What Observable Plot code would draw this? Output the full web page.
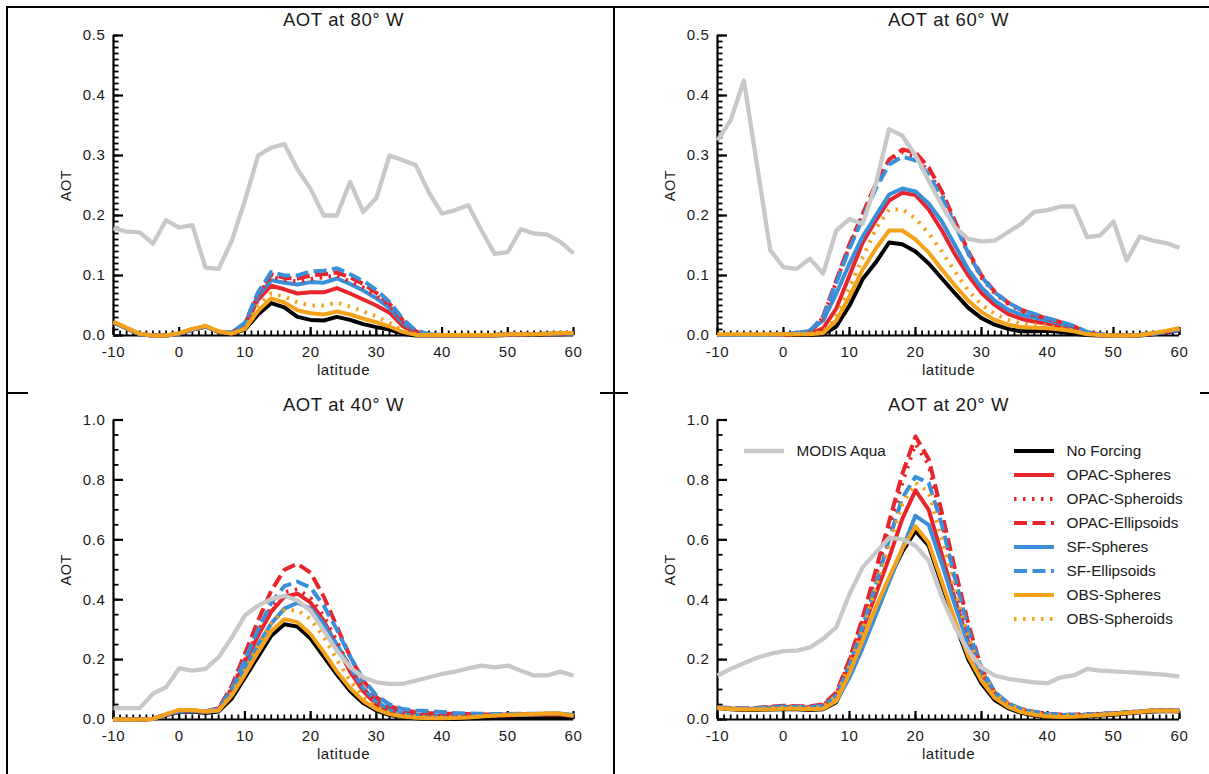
<!DOCTYPE html>
<html>
<head>
<meta charset="utf-8">
<script src="https://cdn.jsdelivr.net/npm/d3@7"></script>
<script src="https://cdn.jsdelivr.net/npm/@observablehq/plot@0.6"></script>
<style>
  body { margin: 0; background: #fff; }
  #root { position: relative; width: 1209px; height: 774px; overflow: hidden; background: #fff;
          font-family: "Liberation Sans", Arial, Helvetica, sans-serif; color: #1a1a1a; }
  .panel { position: absolute; }
  .bar { position: absolute; background: #000; }
  .legrow { position: absolute; height: 20px; display: flex; align-items: center; font-size: 15.3px; white-space: nowrap; }
  .legrow svg { display: block; flex: none; }
</style>
</head>
<body>
<div id="root"></div>
<script>
// ---------- categories ----------
const latitude = [-10,-8,-6,-4,-2,0,2,4,6,8,10,12,14,16,18,20,22,24,26,28,30,32,34,36,38,40,42,44,46,48,50,52,54,56,58,60];
const seriesNames = ["MODIS Aqua","No Forcing","OPAC-Spheres","OPAC-Spheroids","OPAC-Ellipsoids","SF-Spheres","SF-Ellipsoids","OBS-Spheres","OBS-Spheroids"];
const xMajorTicks = [-10,0,10,20,30,40,50,60];
const yMajorTop = [0,0.1,0.2,0.3,0.4,0.5];
const yMajorBottom = [0,0.2,0.4,0.6,0.8,1.0];
const titles = ["AOT at 80° W","AOT at 60° W","AOT at 40° W","AOT at 20° W"];

// ---------- 80° W ----------
const modis80 = [0.179,0.173,0.172,0.153,0.192,0.180,0.184,0.113,0.111,0.158,0.225,0.300,0.313,0.319,0.277,0.244,0.200,0.200,0.256,0.206,0.229,0.300,0.292,0.284,0.238,0.203,0.209,0.217,0.175,0.136,0.139,0.177,0.170,0.168,0.156,0.137];
const noForcing80 = [0.022,0.012,0.002,0.000,0.000,0.003,0.010,0.015,0.006,0.003,0.010,0.035,0.054,0.047,0.031,0.026,0.025,0.031,0.026,0.019,0.014,0.010,0.003,0.000,0.000,0.000,0.000,0.000,0.000,0.000,0.001,0.001,0.001,0.002,0.002,0.003];
const opacSpheres80 = [0.022,0.012,0.002,0.000,0.000,0.003,0.010,0.015,0.006,0.004,0.016,0.060,0.083,0.077,0.070,0.072,0.072,0.079,0.070,0.060,0.050,0.038,0.016,0.004,0.001,0.001,0.001,0.001,0.001,0.001,0.001,0.002,0.002,0.002,0.003,0.003];
const opacSpheroids80 = [0.022,0.012,0.002,0.000,0.000,0.003,0.010,0.015,0.006,0.004,0.018,0.068,0.098,0.093,0.090,0.094,0.097,0.100,0.090,0.080,0.066,0.050,0.023,0.006,0.001,0.001,0.001,0.001,0.001,0.001,0.002,0.002,0.002,0.003,0.003,0.004];
const opacEllipsoids80 = [0.022,0.012,0.002,0.000,0.000,0.003,0.010,0.015,0.006,0.004,0.019,0.070,0.102,0.096,0.095,0.100,0.102,0.105,0.097,0.086,0.071,0.053,0.026,0.007,0.001,0.001,0.001,0.001,0.001,0.001,0.002,0.002,0.002,0.003,0.003,0.004];
const sfSpheres80 = [0.022,0.012,0.002,0.000,0.000,0.003,0.010,0.015,0.006,0.005,0.020,0.066,0.092,0.088,0.085,0.089,0.088,0.095,0.086,0.075,0.062,0.046,0.021,0.006,0.002,0.001,0.001,0.001,0.001,0.001,0.002,0.002,0.002,0.003,0.003,0.003];
const sfEllipsoids80 = [0.022,0.012,0.002,0.000,0.000,0.003,0.010,0.015,0.006,0.005,0.021,0.072,0.106,0.100,0.100,0.107,0.108,0.112,0.102,0.091,0.076,0.056,0.028,0.008,0.002,0.001,0.001,0.001,0.001,0.001,0.002,0.002,0.002,0.003,0.003,0.004];
const obsSpheres80 = [0.023,0.013,0.003,0.000,0.000,0.004,0.011,0.016,0.007,0.003,0.011,0.041,0.062,0.055,0.042,0.037,0.035,0.040,0.035,0.028,0.022,0.015,0.006,0.001,0.001,0.001,0.001,0.001,0.001,0.001,0.002,0.002,0.002,0.003,0.004,0.004];
const obsSpheroids80 = [0.023,0.013,0.003,0.000,0.000,0.004,0.011,0.016,0.007,0.003,0.012,0.050,0.070,0.065,0.055,0.050,0.050,0.055,0.048,0.040,0.032,0.021,0.008,0.002,0.001,0.001,0.001,0.001,0.001,0.001,0.002,0.002,0.002,0.003,0.004,0.004];

// ---------- 60° W ----------
const modis60 = [0.325,0.359,0.425,0.283,0.142,0.114,0.111,0.128,0.103,0.175,0.194,0.186,0.253,0.344,0.333,0.300,0.258,0.217,0.180,0.161,0.157,0.158,0.172,0.186,0.206,0.209,0.215,0.215,0.164,0.167,0.190,0.125,0.165,0.158,0.154,0.146];
const noForcing60 = [0.001,0.001,0.001,0.001,0.001,0.001,0.001,0.001,0.002,0.015,0.050,0.094,0.122,0.155,0.152,0.140,0.120,0.095,0.070,0.046,0.029,0.018,0.011,0.007,0.007,0.008,0.006,0.003,0.001,0.000,0.000,0.000,0.000,0.002,0.005,0.009];
const opacSpheres60 = [0.001,0.001,0.001,0.001,0.001,0.001,0.002,0.003,0.012,0.045,0.100,0.155,0.192,0.225,0.238,0.234,0.210,0.175,0.135,0.100,0.071,0.051,0.036,0.028,0.023,0.020,0.015,0.010,0.004,0.001,0.000,0.000,0.001,0.003,0.006,0.010];
const opacSpheroids60 = [0.001,0.001,0.001,0.001,0.001,0.002,0.003,0.005,0.030,0.090,0.150,0.200,0.250,0.290,0.305,0.298,0.273,0.235,0.186,0.136,0.096,0.070,0.053,0.041,0.034,0.028,0.022,0.015,0.005,0.001,0.000,0.000,0.001,0.003,0.006,0.010];
const opacEllipsoids60 = [0.001,0.001,0.001,0.001,0.001,0.002,0.003,0.006,0.032,0.092,0.152,0.203,0.253,0.293,0.310,0.305,0.280,0.240,0.190,0.140,0.100,0.073,0.055,0.043,0.035,0.028,0.022,0.015,0.005,0.001,0.000,0.000,0.001,0.003,0.006,0.010];
const sfSpheres60 = [0.001,0.001,0.001,0.001,0.001,0.002,0.004,0.008,0.025,0.070,0.120,0.165,0.200,0.235,0.245,0.240,0.220,0.190,0.150,0.110,0.080,0.058,0.043,0.035,0.030,0.025,0.020,0.013,0.005,0.002,0.000,0.000,0.001,0.003,0.006,0.010];
const sfEllipsoids60 = [0.001,0.001,0.001,0.001,0.001,0.002,0.004,0.008,0.030,0.088,0.145,0.195,0.245,0.285,0.298,0.292,0.268,0.230,0.184,0.137,0.098,0.072,0.055,0.043,0.036,0.029,0.023,0.016,0.006,0.002,0.000,0.000,0.001,0.003,0.006,0.010];
const obsSpheres60 = [0.002,0.002,0.002,0.002,0.002,0.002,0.002,0.002,0.004,0.025,0.065,0.110,0.145,0.175,0.175,0.160,0.138,0.110,0.083,0.058,0.039,0.026,0.018,0.014,0.013,0.012,0.010,0.007,0.002,0.001,0.000,0.000,0.001,0.004,0.008,0.012];
const obsSpheroids60 = [0.002,0.002,0.002,0.002,0.002,0.002,0.002,0.003,0.006,0.032,0.080,0.130,0.178,0.210,0.210,0.195,0.170,0.140,0.106,0.075,0.051,0.036,0.026,0.020,0.018,0.016,0.012,0.008,0.003,0.001,0.000,0.000,0.001,0.004,0.008,0.012];

// ---------- 40° W ----------
const modis40 = [0.038,0.038,0.038,0.086,0.108,0.171,0.163,0.169,0.208,0.274,0.347,0.380,0.402,0.413,0.397,0.363,0.297,0.230,0.174,0.141,0.124,0.119,0.119,0.130,0.141,0.152,0.160,0.171,0.180,0.174,0.180,0.163,0.147,0.147,0.160,0.147];
const noForcing40 = [0.000,0.000,0.000,0.002,0.015,0.025,0.027,0.022,0.027,0.070,0.140,0.210,0.280,0.318,0.310,0.270,0.210,0.150,0.095,0.055,0.030,0.015,0.008,0.004,0.002,0.002,0.002,0.003,0.004,0.005,0.005,0.006,0.007,0.008,0.008,0.007];
const opacSpheres40 = [0.000,0.000,0.000,0.002,0.016,0.027,0.029,0.025,0.035,0.100,0.190,0.280,0.360,0.410,0.420,0.390,0.330,0.245,0.160,0.095,0.050,0.026,0.016,0.012,0.010,0.010,0.010,0.011,0.012,0.013,0.014,0.015,0.016,0.017,0.017,0.012];
const opacSpheroids40 = [0.000,0.000,0.000,0.002,0.016,0.027,0.029,0.025,0.035,0.105,0.200,0.295,0.375,0.425,0.435,0.405,0.345,0.260,0.172,0.103,0.056,0.030,0.019,0.015,0.013,0.012,0.012,0.012,0.013,0.014,0.015,0.016,0.017,0.018,0.018,0.013];
const opacEllipsoids40 = [0.000,0.000,0.000,0.002,0.017,0.028,0.030,0.027,0.038,0.112,0.220,0.330,0.430,0.500,0.520,0.490,0.410,0.310,0.210,0.130,0.075,0.045,0.031,0.025,0.022,0.020,0.019,0.018,0.017,0.017,0.017,0.018,0.018,0.019,0.019,0.014];
const sfSpheres40 = [0.000,0.000,0.000,0.002,0.016,0.027,0.029,0.025,0.030,0.090,0.170,0.250,0.320,0.370,0.390,0.370,0.320,0.250,0.175,0.105,0.060,0.033,0.021,0.016,0.013,0.012,0.012,0.012,0.013,0.014,0.015,0.016,0.017,0.018,0.018,0.013];
const sfEllipsoids40 = [0.000,0.000,0.000,0.002,0.017,0.028,0.030,0.027,0.036,0.102,0.200,0.300,0.390,0.445,0.460,0.440,0.380,0.300,0.210,0.135,0.080,0.050,0.035,0.030,0.028,0.025,0.022,0.020,0.019,0.018,0.018,0.019,0.019,0.020,0.020,0.015];
const obsSpheres40 = [0.000,0.000,0.000,0.002,0.018,0.032,0.032,0.027,0.030,0.080,0.150,0.225,0.295,0.335,0.325,0.285,0.225,0.160,0.105,0.062,0.035,0.018,0.010,0.006,0.004,0.004,0.005,0.007,0.010,0.013,0.015,0.017,0.018,0.020,0.020,0.012];
const obsSpheroids40 = [0.000,0.000,0.000,0.002,0.018,0.032,0.032,0.027,0.032,0.088,0.165,0.245,0.320,0.365,0.365,0.335,0.275,0.200,0.130,0.076,0.042,0.022,0.013,0.009,0.007,0.007,0.008,0.009,0.011,0.013,0.015,0.017,0.018,0.020,0.020,0.012];

// ---------- 20° W ----------
const modis20 = [0.147,0.169,0.188,0.206,0.219,0.228,0.230,0.241,0.269,0.308,0.419,0.508,0.558,0.606,0.602,0.580,0.530,0.408,0.308,0.230,0.174,0.147,0.136,0.130,0.124,0.121,0.141,0.147,0.169,0.163,0.161,0.158,0.156,0.152,0.149,0.143];
const noForcing20 = [0.038,0.034,0.032,0.032,0.033,0.034,0.034,0.032,0.034,0.058,0.150,0.260,0.370,0.470,0.560,0.630,0.580,0.450,0.320,0.200,0.120,0.065,0.038,0.022,0.013,0.008,0.006,0.007,0.010,0.013,0.016,0.020,0.024,0.027,0.028,0.027];
const opacSpheres20 = [0.040,0.037,0.036,0.037,0.040,0.042,0.041,0.040,0.045,0.080,0.180,0.300,0.420,0.540,0.670,0.765,0.700,0.550,0.400,0.260,0.160,0.090,0.052,0.033,0.022,0.017,0.015,0.015,0.016,0.018,0.020,0.023,0.026,0.029,0.030,0.028];
const opacSpheroids20 = [0.040,0.037,0.036,0.038,0.042,0.044,0.043,0.042,0.048,0.085,0.195,0.330,0.480,0.640,0.790,0.920,0.850,0.660,0.460,0.280,0.150,0.082,0.050,0.034,0.024,0.019,0.016,0.016,0.017,0.019,0.021,0.024,0.027,0.030,0.031,0.029];
const opacEllipsoids20 = [0.040,0.038,0.037,0.039,0.043,0.046,0.044,0.044,0.050,0.090,0.200,0.340,0.500,0.660,0.820,0.945,0.870,0.690,0.500,0.320,0.170,0.090,0.054,0.035,0.025,0.019,0.016,0.016,0.017,0.019,0.021,0.024,0.027,0.030,0.031,0.029];
const sfSpheres20 = [0.040,0.037,0.035,0.036,0.038,0.040,0.040,0.037,0.040,0.062,0.140,0.240,0.350,0.460,0.570,0.680,0.650,0.520,0.380,0.250,0.150,0.085,0.050,0.032,0.022,0.017,0.015,0.014,0.015,0.018,0.020,0.024,0.027,0.030,0.032,0.030];
const sfEllipsoids20 = [0.040,0.038,0.036,0.038,0.041,0.043,0.042,0.041,0.046,0.080,0.180,0.310,0.450,0.600,0.740,0.810,0.790,0.650,0.470,0.300,0.170,0.092,0.055,0.035,0.025,0.019,0.016,0.016,0.017,0.019,0.021,0.024,0.027,0.030,0.031,0.029];
const obsSpheres20 = [0.038,0.035,0.033,0.033,0.034,0.036,0.036,0.034,0.036,0.062,0.155,0.265,0.375,0.475,0.570,0.645,0.590,0.460,0.330,0.210,0.130,0.072,0.042,0.025,0.016,0.010,0.008,0.009,0.012,0.015,0.018,0.022,0.026,0.029,0.030,0.028];
const obsSpheroids20 = [0.039,0.036,0.034,0.035,0.038,0.040,0.040,0.038,0.042,0.080,0.180,0.300,0.440,0.580,0.720,0.790,0.760,0.600,0.430,0.275,0.160,0.088,0.052,0.033,0.022,0.016,0.013,0.013,0.015,0.017,0.020,0.023,0.026,0.029,0.030,0.028];

// ---------- styles ----------
const seriesColors = ["#c8c8c8","#000000","#e8252b","#e8252b","#e8252b","#3a8fd8","#3a8fd8","#f5a21b","#f5a21b"];
const seriesDash   = [null,null,null,"2.5,6.5","13,5.5",null,"13,5.5",null,"2.5,6.5"];
const seriesWidths = [4.3,4,4,4,4,4,4,4,4];
const drawOrder = [1,2,5,3,4,6,7,8,0];

const root = document.getElementById("root");

const panels = [
  {title: titles[0], left: 0,   top: 0,   width: 604, height: 385, mt: 35,   mb: 50, ml: 113, mr: 31, yMax: 0.5, yMajor: yMajorTop, yMinorStep: 0.01, dyTitle: -15,
   values: [modis80,noForcing80,opacSpheres80,opacSpheroids80,opacEllipsoids80,sfSpheres80,sfEllipsoids80,obsSpheres80,obsSpheroids80]},
  {title: titles[1], left: 604, top: 0,   width: 605, height: 385, mt: 35,   mb: 50, ml: 113, mr: 30, yMax: 0.5, yMajor: yMajorTop, yMinorStep: 0.01, dyTitle: -15,
   values: [modis60,noForcing60,opacSpheres60,opacSpheroids60,opacEllipsoids60,sfSpheres60,sfEllipsoids60,obsSpheres60,obsSpheroids60]},
  {title: titles[2], left: 0,   top: 385, width: 604, height: 389, mt: 34.5, mb: 55, ml: 113, mr: 31, yMax: 1.0, yMajor: yMajorBottom, yMinorStep: 0.05, dyTitle: -14.5,
   values: [modis40,noForcing40,opacSpheres40,opacSpheroids40,opacEllipsoids40,sfSpheres40,sfEllipsoids40,obsSpheres40,obsSpheroids40]},
  {title: titles[3], left: 604, top: 385, width: 605, height: 389, mt: 34.5, mb: 55, ml: 113, mr: 30, yMax: 1.0, yMajor: yMajorBottom, yMinorStep: 0.05, dyTitle: -14.5,
   values: [modis20,noForcing20,opacSpheres20,opacSpheroids20,opacEllipsoids20,sfSpheres20,sfEllipsoids20,obsSpheres20,obsSpheroids20]}
];

const xMinorTicks = d3.range(-10, 60.001, 1);

for (const p of panels) {
  const plotW = p.width - p.ml - p.mr;
  const plotH = p.height - p.mt - p.mb;
  const pxX = plotW / 70;          // pixels per degree
  const pxY = plotH / p.yMax;      // pixels per AOT unit
  const yMinor = d3.range(0, p.yMax + 1e-9, p.yMinorStep);
  const lineMarks = drawOrder.map(i => Plot.line(
    latitude.map((lat, j) => ({lat, aot: p.values[i][j], series: seriesNames[i]})),
    {x: "lat", y: "aot", stroke: seriesColors[i], strokeWidth: seriesWidths[i],
     strokeDasharray: seriesDash[i] || undefined, strokeLinecap: "butt", strokeLinejoin: "round"}
  ));
  const chart = Plot.plot({
    width: p.width, height: p.height,
    marginTop: p.mt, marginBottom: p.mb, marginLeft: p.ml, marginRight: p.mr,
    x: {domain: [-10, 60], label: null},
    y: {domain: [0, p.yMax], label: null},
    style: {fontFamily: '"Liberation Sans", Arial, Helvetica, sans-serif', fontSize: "15px",
            letterSpacing: "0.6px", background: "transparent", color: "#1a1a1a"},
    marks: [
      // inward tick marks (IDL style)
      Plot.ruleY(yMinor, {y: d => d, x1: -10, x2: -10 + 5.5 / pxX, stroke: "black", strokeWidth: 1.8}),
      Plot.ruleY(p.yMajor, {y: d => d, x1: -10, x2: -10 + 10 / pxX, stroke: "black", strokeWidth: 2.2}),
      Plot.ruleX(xMinorTicks, {x: d => d, y1: 0, y2: 4.5 / pxY, stroke: "black", strokeWidth: 1.8}),
      Plot.ruleX(xMajorTicks, {x: d => d, y1: 0, y2: 8 / pxY, stroke: "black", strokeWidth: 2.2}),
      Plot.ruleX([-10], {x: d => d, y1: 0, y2: p.yMax, stroke: "black", strokeWidth: 2.2}),
      Plot.ruleY([0], {y: d => d, x1: -10, x2: 60, stroke: "black", strokeWidth: 2.2}),
      ...lineMarks,
      Plot.axisX({ticks: xMajorTicks, tickSize: 0, tickPadding: 10.5, tickFormat: d => String(d), label: null, fontSize: 15}),
      Plot.axisY({ticks: p.yMajor, tickSize: 0, tickPadding: 8, tickFormat: d3.format(".1f"), label: null, fontSize: 15}),
      Plot.text([p.title], {text: d => d, frameAnchor: "top", dy: p.dyTitle, lineAnchor: "middle", textAnchor: "middle", fontSize: 18.5, fill: "#1a1a1a"}),
      Plot.text(["latitude"], {text: d => d, frameAnchor: "bottom", dy: 35, lineAnchor: "middle", textAnchor: "middle", fontSize: 15, fill: "#1a1a1a"}),
      Plot.text(["AOT"], {text: d => d, frameAnchor: "left", dx: -47, rotate: -90, lineAnchor: "middle", textAnchor: "middle", fontSize: 14.5, fill: "#1a1a1a"})
    ]
  });
  chart.classList.add("panel");
  chart.style.position = "absolute";
  chart.style.left = p.left + "px";
  chart.style.top = p.top + "px";
  root.appendChild(chart);
}

// ---------- legend (20° W panel) ----------
function legendRow(i, swLeft, rowY, gap) {
  const row = document.createElement("div");
  row.className = "legrow";
  row.style.left = swLeft + "px";
  row.style.top = (rowY - 10) + "px";
  const dash = seriesDash[i] ? ` stroke-dasharray="${seriesDash[i]}"` : "";
  row.innerHTML = `<svg width="40" height="20"><line x1="0" x2="40" y1="10" y2="10" stroke="${seriesColors[i]}" stroke-width="${seriesWidths[i]}"${dash}/></svg>` +
                  `<span style="margin-left:${gap}px">${seriesNames[i]}</span>`;
  root.appendChild(row);
}
legendRow(0, 743.5, 450.7, 13);
for (let k = 1; k < seriesNames.length; k++) legendRow(k, 1014, 450.7 + (k - 1) * 24.05, 12.5);

// ---------- table borders ----------
function bar(l, t, w, h) {
  const d = document.createElement("div");
  d.className = "bar";
  Object.assign(d.style, {left: l + "px", top: t + "px", width: w + "px", height: h + "px"});
  root.appendChild(d);
}
bar(6, 6, 1203, 2);        // top border
bar(6, 6, 2, 768);         // left border
bar(613, 6, 2, 768);       // middle vertical
bar(6, 392, 22, 2);        // middle horizontal stubs
bar(600, 392, 28, 2);
bar(1200, 392, 9, 2);
</script>
</body>
</html>
